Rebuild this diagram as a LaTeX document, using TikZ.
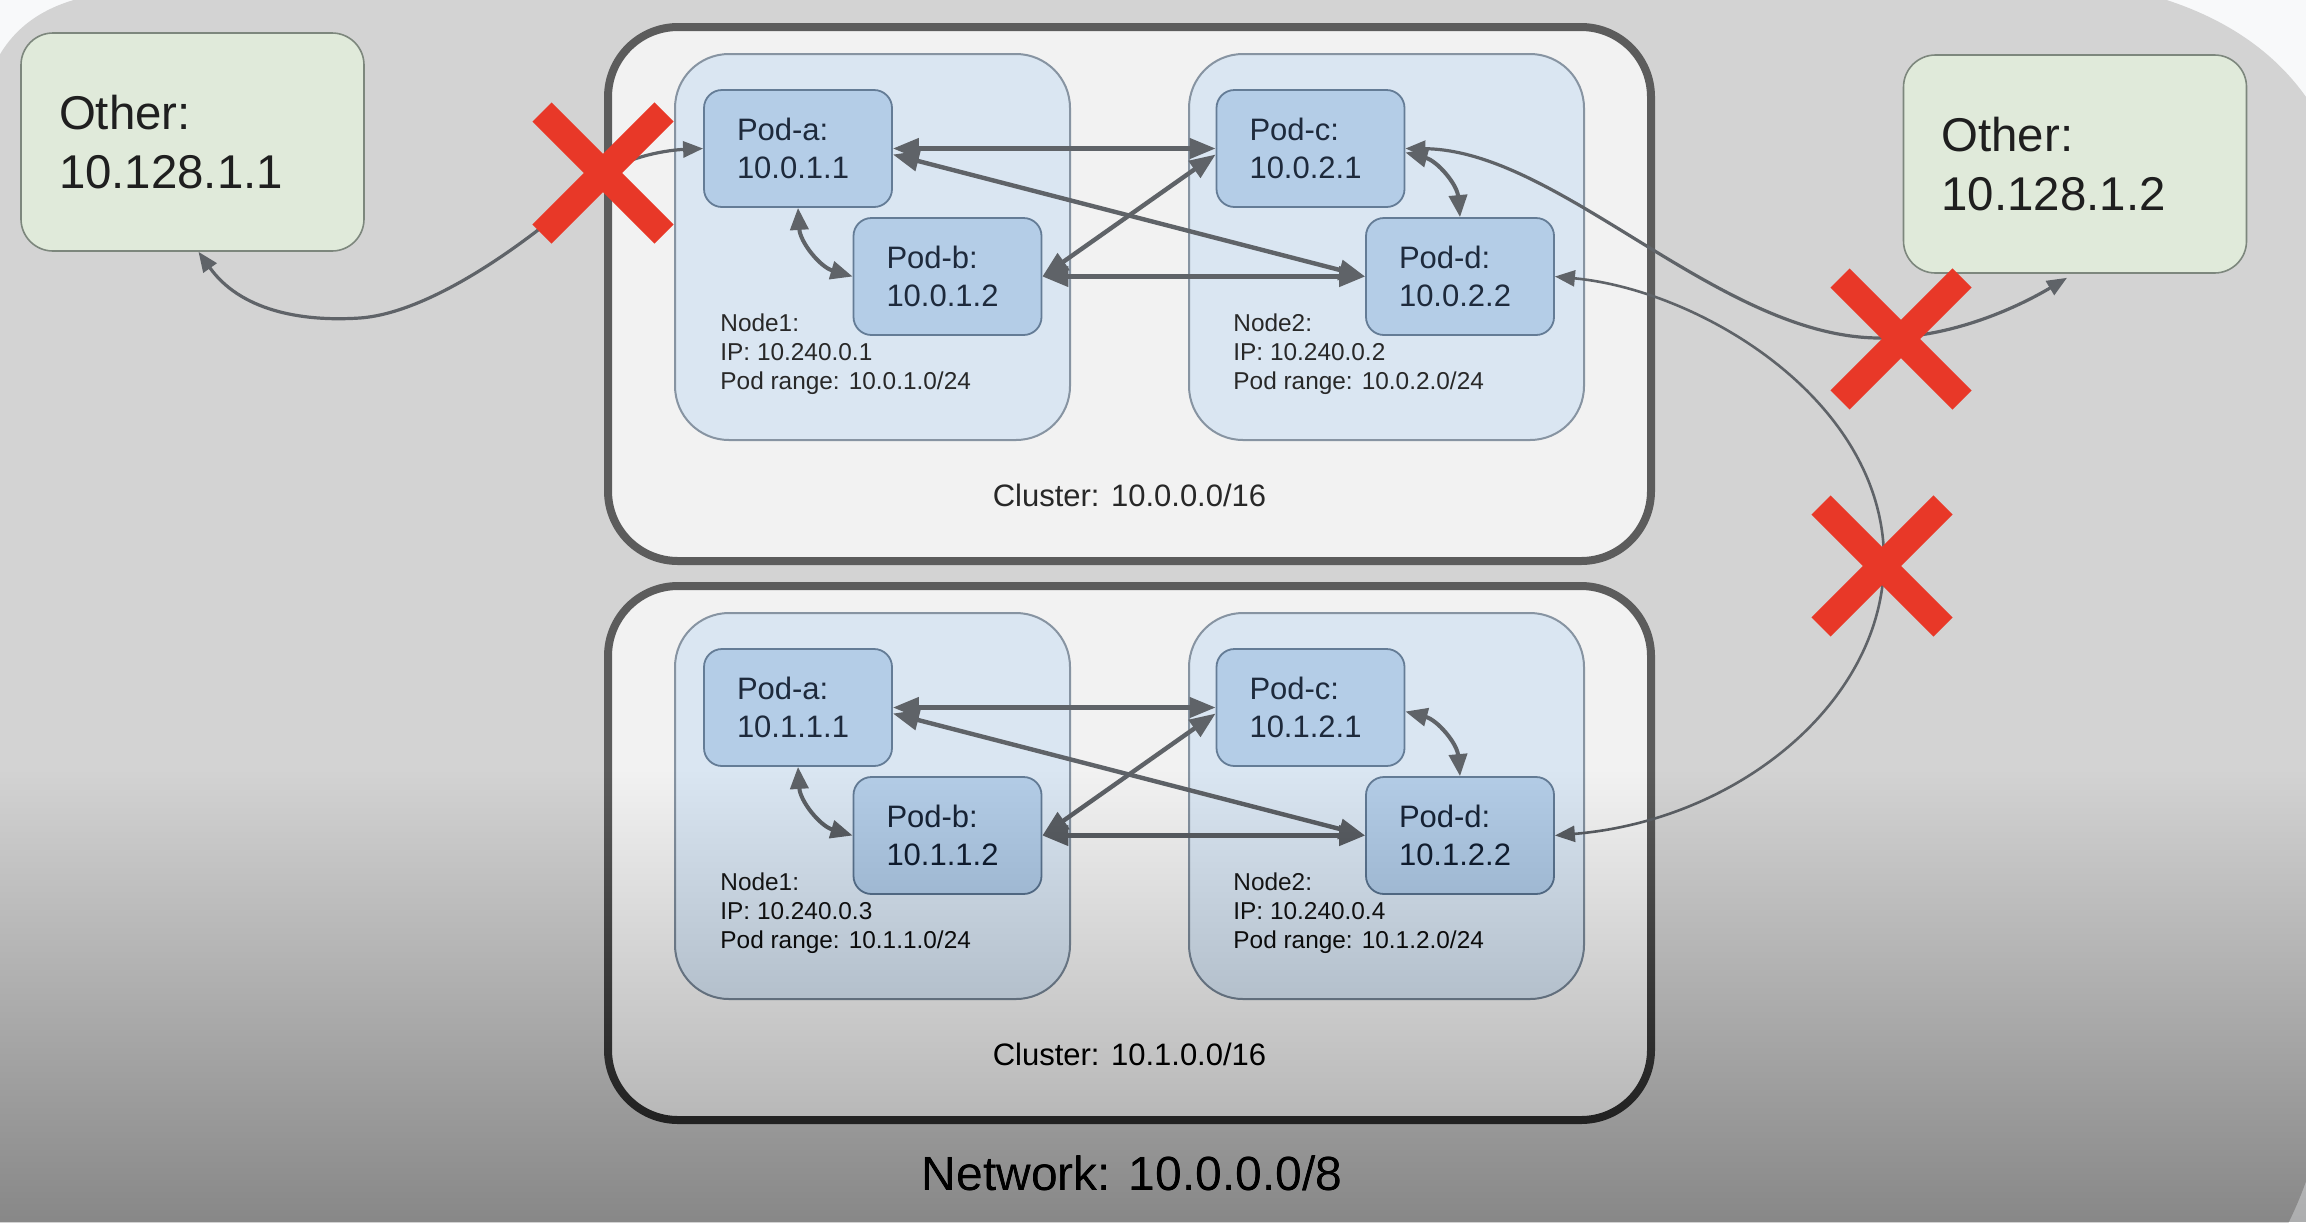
\documentclass[tikz,border=0pt]{standalone}
\usepackage{fontspec}
\setmainfont{Liberation Sans}
\usetikzlibrary{arrows.meta}
\definecolor{bgwhite}{RGB}{248,249,250}
\definecolor{netgray}{RGB}{211,211,211}
\definecolor{clfill}{RGB}{242,242,242}
\definecolor{clline}{RGB}{92,92,92}
\definecolor{ndfill}{RGB}{218,230,242}
\definecolor{ndline}{RGB}{135,148,162}
\definecolor{podfill}{RGB}{180,205,231}
\definecolor{podline}{RGB}{100,124,150}
\definecolor{othfill}{RGB}{224,234,218}
\definecolor{othline}{RGB}{125,135,125}
\definecolor{arr}{RGB}{95,99,104}
\definecolor{xred}{RGB}{232,56,40}
\definecolor{podtext}{RGB}{30,42,60}
\definecolor{dtext}{RGB}{40,40,40}
\begin{document}
\begin{tikzpicture}[x=0.5pt,y=-0.5pt,
 cluster/.style={draw=clline, fill=clfill, line width=4pt, rounded corners=35pt, minimum width=521.5pt, minimum height=267pt, inner sep=0pt},
 nodebox/.style={draw=ndline, fill=ndfill, line width=1pt, rounded corners=27pt, minimum width=197.5pt, minimum height=193pt, inner sep=0pt},
 pod/.style={draw=podline, fill=podfill, line width=0.9pt, rounded corners=9pt, minimum width=94pt, minimum height=58.5pt, text width=61pt, inner xsep=16.5pt, inner ysep=0pt, align=left, text=podtext, font=\fontsize{15.5}{18.8}\selectfont},
 other/.style={draw=othline, fill=othfill, line width=0.8pt, rounded corners=16pt, minimum width=171.5pt, minimum height=109pt, text width=133.5pt, inner xsep=19pt, inner ysep=0pt, align=left, text=black!88, font=\fontsize{23.7}{29.2}\selectfont},
 nlabel/.style={anchor=north west, inner sep=0pt, align=left, text=dtext, font=\fontsize{12.2}{14.5}\selectfont},
 clabel/.style={anchor=base, inner sep=0pt, text=dtext, font=\fontsize{15.5}{18}\selectfont},
 link/.style={draw=arr, line width=2.2pt, {Triangle[length=13pt,width=10pt]}-{Triangle[length=13pt,width=10pt]}},
 clink/.style={draw=arr, line width=2pt, {Triangle[length=11pt,width=9pt]}-{Triangle[length=11pt,width=9pt]}},
 elink/.style={draw=arr, line width=1.6pt, {Triangle[length=10pt,width=8pt]}-{Triangle[length=10pt,width=8pt]}},
 elinkthin/.style={draw=arr, line width=1.3pt, {Triangle[length=10pt,width=8pt]}-{Triangle[length=10pt,width=8pt]}},
 xmark/.style={draw=xred, line width=13.5pt}
]
\useasboundingbox (0,0) rectangle (2306,1222);
\fill[bgwhite] (0,0) rectangle (2306,1222);
% network area
\fill[netgray] (-10,75) .. controls (8,28) and (45,4) .. (95,-5) -- (2150,-5) .. controls (2240,20) and (2300,70) .. (2330,140) -- (2330,1050) .. controls (2325,1150) and (2300,1200) .. (2280,1240) -- (-10,1240) -- cycle;

% clusters
\node[cluster] (c1) at (1129.5,294) {};
\node[cluster] (c2) at (1129.5,853) {};
\node[clabel] (c1l) at (1129.5,506.6) {Cluster: 10.0.0.0/16};
\node[clabel] (c2l) at (1129.5,1065.6) {Cluster: 10.1.0.0/16};
\node[anchor=base, inner sep=0pt, text=black!90, font=\fontsize{24}{28}\selectfont] (net) at (1132,1190) {Network: 10.0.0.0/8};

% node boxes
\node[nodebox] (n11) at (872.5,247) {};
\node[nodebox] (n12) at (1386.5,247) {};
\node[nodebox] (n21) at (872.5,806) {};
\node[nodebox] (n22) at (1386.5,806) {};
\node[nlabel] (n11l) at (720,313.5) {Node1:\\IP: 10.240.0.1\\Pod range: 10.0.1.0/24};
\node[nlabel] (n12l) at (1233,313.5) {Node2:\\IP: 10.240.0.2\\Pod range: 10.0.2.0/24};
\node[nlabel] (n21l) at (720,872.5) {Node1:\\IP: 10.240.0.3\\Pod range: 10.1.1.0/24};
\node[nlabel] (n22l) at (1233,872.5) {Node2:\\IP: 10.240.0.4\\Pod range: 10.1.2.0/24};

% pods
\node[pod] (pa) at (798,148.5) {Pod-a:\\10.0.1.1};
\node[pod] (pb) at (947.5,276.5) {Pod-b:\\10.0.1.2};
\node[pod] (pc) at (1310.5,148.5) {Pod-c:\\10.0.2.1};
\node[pod] (pd) at (1460,276.5) {Pod-d:\\10.0.2.2};
\node[pod] (qa) at (798,707.5) {Pod-a:\\10.1.1.1};
\node[pod] (qb) at (947.5,835.5) {Pod-b:\\10.1.1.2};
\node[pod] (qc) at (1310.5,707.5) {Pod-c:\\10.1.2.1};
\node[pod] (qd) at (1460,835.5) {Pod-d:\\10.1.2.2};

% other hosts
\node[other] (o1) at (192.5,142) {Other:\\10.128.1.1};
\node[other] (o2) at (2075,164) {Other:\\10.128.1.2};

% links inside clusters
\foreach \a/\b/\c/\d in {pa/pb/pc/pd, qa/qb/qc/qd} {
  \draw[link] (\a.east) -- (\c.west);
  \draw[link] ([yshift=-3pt]\a.east) -- (\d.west);
  \draw[link] (\b.east) -- ([yshift=-3pt]\c.west);
  \draw[link] (\b.east) -- (\d.west);
  \draw[clink] (\a.south) to[bend right=35] (\b.west);
  \draw[clink] ([yshift=-2pt]\c.east) to[bend left=35] (\d.north);
}

% external links
\draw[elink] ([xshift=3pt]o1.south) .. controls (240,310) and (300,322) .. (360,318) .. controls (440,312) and (550,225) .. (603,175) .. controls (630,155) and (670,150) .. (pa.west);
\draw[elink] (pc.east) .. controls (1560,150) and (1720,338) .. (1880,338) .. controls (1960,338) and (2030,300) .. ([xshift=-4pt,yshift=-2pt]o2.south);
\draw[elinkthin] (pd.east) .. controls (1700,290) and (1884,400) .. (1884,560) .. controls (1884,700) and (1740,820) .. (qd.east);

% blocked marks
\coordinate (x1) at (603,173);
\coordinate (x2) at (1901,339);
\coordinate (x3) at (1882,566);
\foreach \c in {x1,x2,x3} {
  \draw[xmark] (\c) ++(-61,-61) -- ++(122,122) (\c) ++(-61,61) -- ++(122,-122);
}

% bottom darkening
\foreach \i in {0,...,96} {
  \pgfmathsetmacro\ak{0.26*((\i+1)/97)^1.5}
  \pgfmathsetmacro\akm{0.26*((\i)/97)^1.5}
  \pgfmathsetmacro\dk{1-(1-\ak)/(1-\akm)}
  \fill[black, opacity=\dk] (0,640+6*\i) rectangle (2306,1222);
}
\end{tikzpicture}
\end{document}
